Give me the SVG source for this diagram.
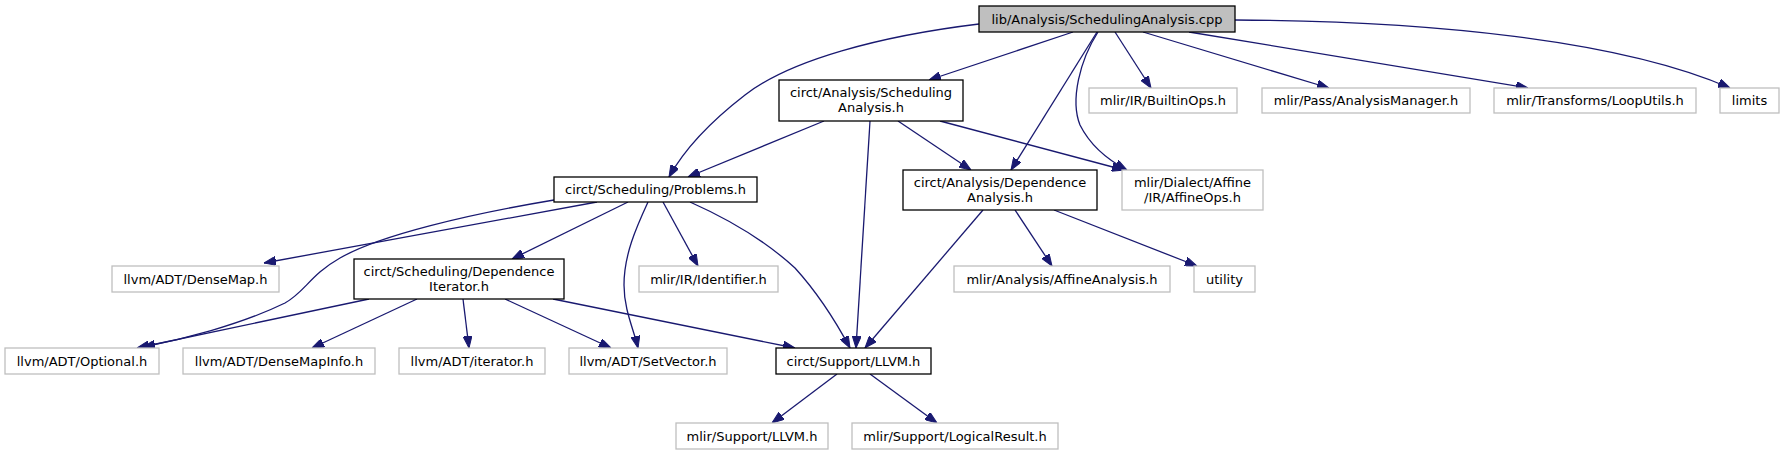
<svg xmlns="http://www.w3.org/2000/svg" width="1785" height="455" viewBox="0 0 1785 455">
<style>
.n rect{fill:#fff;stroke:#bfbfbf;stroke-width:1.3}
.n.d rect{stroke:#000}
.n.m rect{fill:#bfbfbf;stroke:#000}
text{font-family:"DejaVu Sans",sans-serif;font-size:13px;fill:#000;text-anchor:middle}
#edges path{fill:none;stroke:#191970;stroke-width:1.3;marker-end:url(#ah)}
</style>
<defs>
<marker id="ah" viewBox="0 0 12 9" refX="12" refY="4.5" markerWidth="12" markerHeight="9" markerUnits="userSpaceOnUse" orient="auto">
<path d="M0,0 L12,4.5 L0,9 z" fill="#191970" stroke="#191970"/>
</marker>
</defs>
<rect width="1785" height="455" fill="#fff"/>
<g id="edges">
<path d="M979,24 C880,36 790,60 745,95 C710,122 684,150 669,177"/>
<path d="M1073,32 L929,80"/>
<path d="M1097,32 L1011,170"/>
<path d="M1115,32 L1151,88"/>
<path d="M1098,32 C1080,60 1070,100 1080,125 C1090,145 1108,160 1127,170"/>
<path d="M1143,32 L1329,88"/>
<path d="M1189,32 L1528,88"/>
<path d="M1235,20 C1430,21 1620,40 1730,88"/>
<path d="M824,121 L688,177"/>
<path d="M870,121 L856,348"/>
<path d="M898,121 L971,170"/>
<path d="M940,121 L1124,170"/>
<path d="M597,202 L264,263"/>
<path d="M554,200 C470,214 380,235 340,258 C310,275 305,292 285,303 C240,325 180,340 143,347"/>
<path d="M628,202 L512,259"/>
<path d="M648,202 C636,228 624,255 624,285 C624,310 634,330 638,348"/>
<path d="M663,202 L698,266"/>
<path d="M690,202 C735,222 770,245 795,268 C815,290 835,320 850,348"/>
<path d="M369,299 L137,348"/>
<path d="M417,299 L312,348"/>
<path d="M463,299 L469,348"/>
<path d="M505,299 L611,348"/>
<path d="M553,299 L795,348"/>
<path d="M983,210 L865,348"/>
<path d="M1015,210 L1052,266"/>
<path d="M1054,210 L1197,266"/>
<path d="M837,374 L772,423"/>
<path d="M870,374 L937,423"/>
</g>
<g id="n0" class="n m"><rect x="979" y="6" width="256" height="26"/><text x="1107" y="23.5">lib/Analysis/SchedulingAnalysis.cpp</text></g>
<g id="n1" class="n d"><rect x="779" y="80" width="184" height="41"/><text x="871" y="97">circt/Analysis/Scheduling</text><text x="871" y="112">Analysis.h</text></g>
<g id="n2" class="n"><rect x="1089" y="88" width="148" height="25"/><text x="1163" y="105">mlir/IR/BuiltinOps.h</text></g>
<g id="n3" class="n"><rect x="1262" y="88" width="208" height="25"/><text x="1366" y="105">mlir/Pass/AnalysisManager.h</text></g>
<g id="n4" class="n"><rect x="1494" y="88" width="202" height="25"/><text x="1595" y="105">mlir/Transforms/LoopUtils.h</text></g>
<g id="n5" class="n"><rect x="1720" y="88" width="59" height="25"/><text x="1749.5" y="105">limits</text></g>
<g id="n6" class="n d"><rect x="554" y="177" width="203" height="25"/><text x="655.5" y="194">circt/Scheduling/Problems.h</text></g>
<g id="n7" class="n d"><rect x="903" y="170" width="194" height="40"/><text x="1000" y="187">circt/Analysis/Dependence</text><text x="1000" y="202">Analysis.h</text></g>
<g id="n8" class="n"><rect x="1122" y="170" width="141" height="40"/><text x="1192.5" y="187">mlir/Dialect/Affine</text><text x="1192.5" y="202">/IR/AffineOps.h</text></g>
<g id="n9" class="n"><rect x="112" y="266" width="167" height="26"/><text x="195.5" y="283.5">llvm/ADT/DenseMap.h</text></g>
<g id="n10" class="n d"><rect x="354" y="259" width="210" height="40"/><text x="459" y="276">circt/Scheduling/Dependence</text><text x="459" y="291">Iterator.h</text></g>
<g id="n11" class="n"><rect x="639" y="266" width="139" height="26"/><text x="708.5" y="283.5">mlir/IR/Identifier.h</text></g>
<g id="n12" class="n"><rect x="954" y="266" width="216" height="26"/><text x="1062" y="283.5">mlir/Analysis/AffineAnalysis.h</text></g>
<g id="n13" class="n"><rect x="1194" y="266" width="61" height="26"/><text x="1224.5" y="283.5">utility</text></g>
<g id="n14" class="n"><rect x="5" y="348" width="154" height="26"/><text x="82" y="365.5">llvm/ADT/Optional.h</text></g>
<g id="n15" class="n"><rect x="183" y="348" width="192" height="26"/><text x="279" y="365.5">llvm/ADT/DenseMapInfo.h</text></g>
<g id="n16" class="n"><rect x="399" y="348" width="146" height="26"/><text x="472" y="365.5">llvm/ADT/iterator.h</text></g>
<g id="n17" class="n"><rect x="569" y="348" width="158" height="26"/><text x="648" y="365.5">llvm/ADT/SetVector.h</text></g>
<g id="n18" class="n d"><rect x="776" y="348" width="155" height="26"/><text x="853.5" y="365.5">circt/Support/LLVM.h</text></g>
<g id="n19" class="n"><rect x="676" y="423" width="152" height="26"/><text x="752" y="440.5">mlir/Support/LLVM.h</text></g>
<g id="n20" class="n"><rect x="852" y="423" width="206" height="26"/><text x="955" y="440.5">mlir/Support/LogicalResult.h</text></g>
</svg>
